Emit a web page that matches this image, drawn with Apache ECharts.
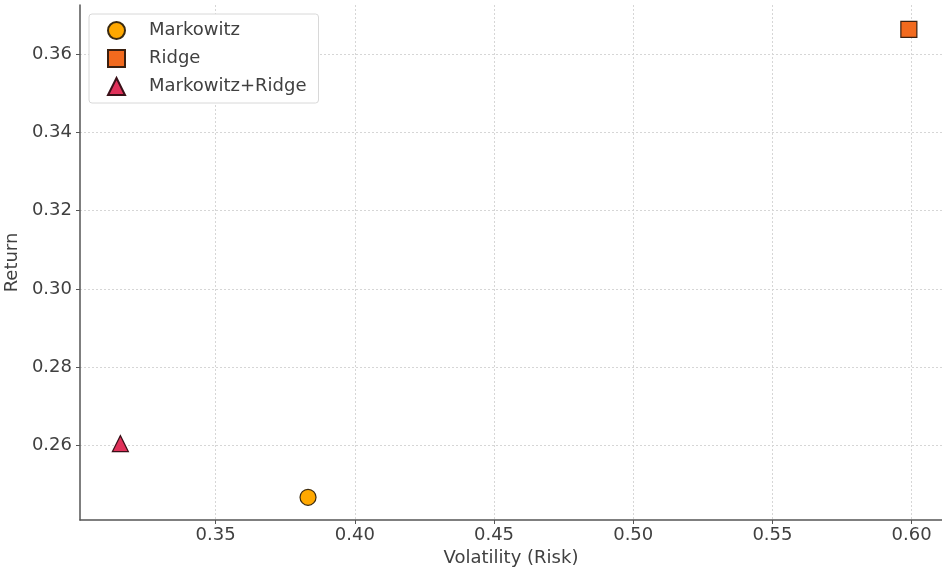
<!DOCTYPE html>
<html>
<head>
<meta charset="utf-8">
<script src="https://cdn.jsdelivr.net/npm/echarts@6/dist/echarts.min.js"></script>
<style>
  html, body { margin: 0; padding: 0; background: #fff; }
  #chart { width: 942px; height: 571px; }
</style>
</head>
<body>
<div id="chart"></div>
<script>
// portfolio points (volatility, return)
const markowitz = [[0.3832, 0.2468]];
const ridge = [[0.5990, 0.3663]];
const markowitzRidge = [[0.3158, 0.2605]];

const xTicks = [0.35, 0.40, 0.45, 0.50, 0.55, 0.60];
const yTicks = [0.26, 0.28, 0.30, 0.32, 0.34, 0.36];

const font = 'DejaVu Sans';
const textColor = '#404040';

const chart = echarts.init(document.getElementById('chart'));

const gridLine = {
    show: true,
    lineStyle: { color: '#d6d6d6', type: [2, 2], width: 1 },
};

const option = {
    animation: false,
    grid: { left: 80, right: 0, top: 5, bottom: 51, outerBoundsMode: 'none' },
    legend: {
        orient: 'vertical',
        left: 89,
        top: 14,
        padding: [7, 12, 7, 18],
        itemGap: 9,
        itemWidth: 17,
        itemHeight: 17,
        borderColor: '#d8d8d8',
        borderWidth: 1,
        borderRadius: 3,
        backgroundColor: '#fff',
        textStyle: { fontFamily: font, fontSize: 18, color: textColor, padding: [0, 0, 0, 19] },
        data: ['Markowitz', 'Ridge', 'Markowitz+Ridge'],
    },
    xAxis: {
        type: 'value',
        min: 0.3013,
        max: 0.6109,
        name: 'Volatility (Risk)',
        nameLocation: 'middle',
        nameGap: 29,
        nameTextStyle: { fontFamily: font, fontSize: 18, color: textColor },
        axisLine: { show: true, onZero: false, lineStyle: { color: '#555', width: 1.5 } },
        axisTick: { show: true, customValues: xTicks, length: 4, lineStyle: { color: '#555' } },
        axisLabel: {
            customValues: xTicks,
            fontFamily: font, fontSize: 18, color: textColor, margin: 6,
            formatter: v => v.toFixed(2),
        },
        splitLine: gridLine,
    },
    yAxis: {
        type: 'value',
        min: 0.2410,
        max: 0.3725,
        name: 'Return',
        nameLocation: 'middle',
        nameGap: 54,
        nameTextStyle: { fontFamily: font, fontSize: 18, color: textColor },
        axisLine: { show: true, onZero: false, lineStyle: { color: '#555', width: 1.5 } },
        axisTick: { show: true, customValues: yTicks, length: 4, lineStyle: { color: '#555' } },
        axisLabel: {
            customValues: yTicks,
            fontFamily: font, fontSize: 18, color: textColor, margin: 8,
            formatter: v => v.toFixed(2),
        },
        splitLine: gridLine,
    },
    series: [
        {
            name: 'Markowitz',
            type: 'scatter',
            symbol: 'circle',
            symbolSize: 16,
            itemStyle: { color: '#FFA800', borderColor: '#3a2a10', borderWidth: 1.2, opacity: 1 },
            data: markowitz,
        },
        {
            name: 'Ridge',
            type: 'scatter',
            symbol: 'rect',
            symbolSize: 16,
            itemStyle: { color: '#F26A1E', borderColor: '#3a2010', borderWidth: 1.2, opacity: 1 },
            data: ridge,
        },
        {
            name: 'Markowitz+Ridge',
            type: 'scatter',
            symbol: 'triangle',
            symbolSize: 16,
            itemStyle: { color: '#E0315A', borderColor: '#3a1018', borderWidth: 1.2, opacity: 1 },
            data: markowitzRidge,
        },
    ],
};

chart.setOption(option);
</script>
</body>
</html>
